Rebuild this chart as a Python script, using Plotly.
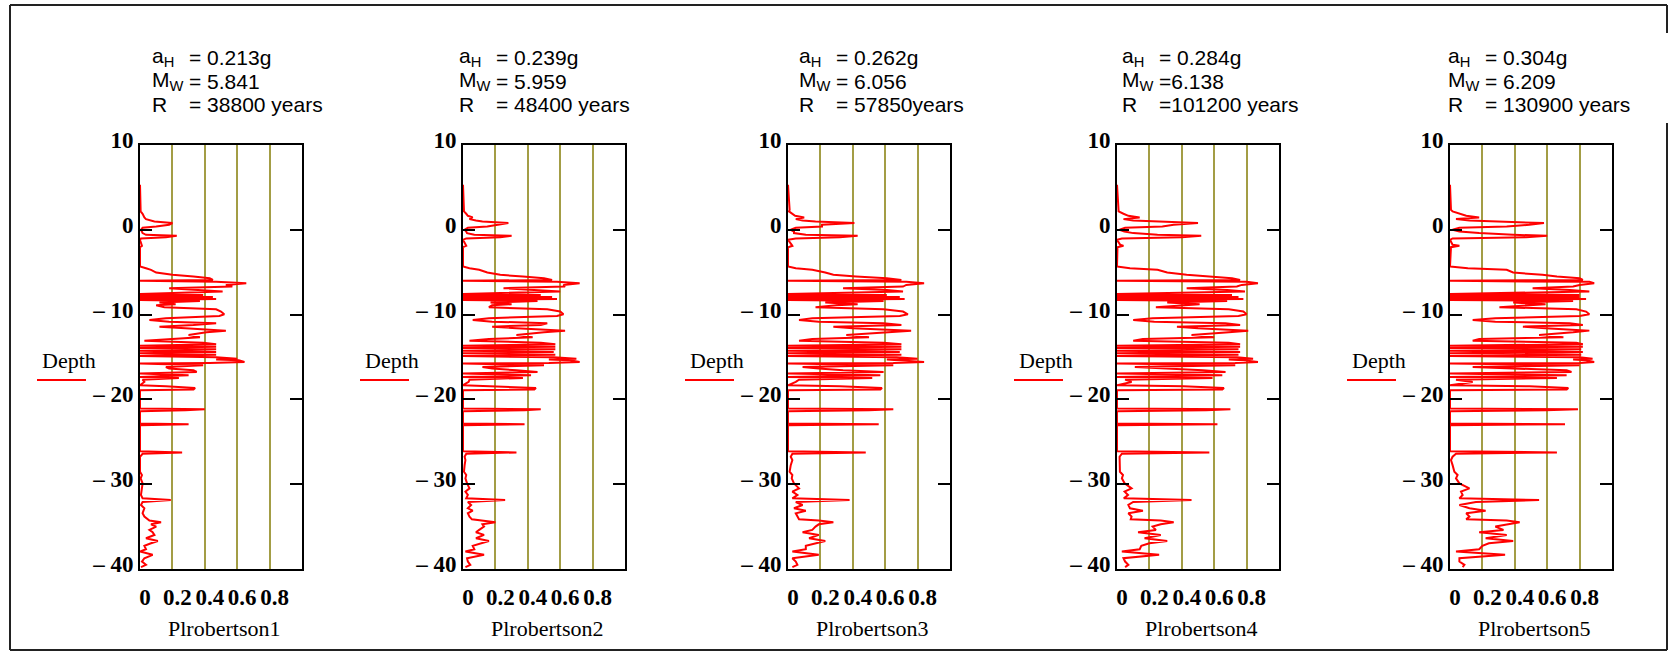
import plotly.graph_objects as go

# ---- data -------------------------------------------------------------
DEPTH = [
    5.32, 2.36, 2.17, 1.89, 1.65, 1.46, 1.26, 1.10, 0.98, 0.79,
    0.59, 0.39, 0.24, 0.00, -0.20, -0.39, -0.59, -0.71, -0.87, -1.02,
    -1.18, -1.77, -1.89, -2.05, -4.33, -4.53, -4.72, -5.04, -5.31, -5.51,
    -5.71, -5.91, -6.02, -6.14, -6.30, -6.50, -6.69, -6.89, -7.09, -7.28,
    -7.56, -7.68, -7.80, -7.91, -8.03, -8.15, -8.27, -8.39, -8.58, -8.78,
    -8.90, -9.13, -9.37, -9.64, -9.96, -10.16, -10.43, -10.63, -10.83, -11.02,
    -11.22, -11.42, -11.61, -11.89, -12.09, -12.40, -12.68, -12.87, -13.07, -13.31,
    -13.50, -13.66, -13.78, -13.94, -14.10, -14.25, -14.41, -14.57, -14.72, -14.88,
    -15.04, -15.20, -15.30, -15.39, -15.59, -15.70, -15.78, -15.98, -16.18, -16.37,
    -16.57, -16.76, -16.96, -17.16, -17.35, -17.47, -17.67, -17.94, -18.33, -18.45,
    -18.65, -18.84, -18.92, -21.08, -21.16, -21.27, -21.39, -22.84, -22.92, -23.04,
    -26.10, -26.25, -26.41, -26.76, -27.16, -27.75, -28.53, -28.92, -29.31, -29.90,
    -30.49, -30.88, -31.27, -31.67, -31.86, -32.10, -32.45, -32.84, -33.12, -33.43,
    -33.82, -34.14, -34.29, -34.49, -34.73, -35.00, -35.39, -35.67, -35.98, -36.37,
    -36.69, -36.96, -37.27, -37.67, -37.94, -38.33, -38.73, -39.12, -39.51, -39.78,
]

PL1 = [
    0, 0, 0.004, 0.016, 0.02, 0.027, 0.037, 0.068, 0.089, 0.2,
    0.18, 0.1, 0.016, 0.006, 0.012, 0.016, 0.037, 0.227, 0.16, 0.006,
    0, 0.012, 0.012, 0, 0, 0.037, 0.068, 0.1, 0.2, 0.33,
    0.43, 0.45, 0, 0.47, 0.656, 0.53, 0.57, 0.18, 0.35, 0.51,
    0, 0.39, 0, 0.45, 0, 0.47, 0, 0.37, 0.12, 0.22,
    0.1, 0.15, 0.47, 0.5, 0.52, 0.49, 0.16, 0.058, 0.18, 0.47,
    0.33, 0.12, 0.28, 0.53, 0.41, 0.3, 0.37, 0.18, 0.027, 0.39,
    0.47, 0, 0.47, 0, 0.47, 0, 0.47, 0, 0.47, 0,
    0.47, 0.6, 0.47, 0.61, 0.645, 0.43, 0, 0.39, 0.16, 0.18,
    0.33, 0.35, 0, 0.3, 0, 0.24, 0.016, 0.027, 0, 0.16,
    0.34, 0.33, 0, 0, 0.4, 0.28, 0, 0, 0.3, 0,
    0, 0.26, 0.016, 0, 0, 0, 0, 0.012, 0.004, 0.016,
    0.012, 0.006, 0.006, 0.016, 0.19, 0.016, 0.006, 0.027, 0.02, 0.016,
    0.027, 0.047, 0.058, 0.13, 0.068, 0.1, 0.058, 0.078, 0.089, 0.037,
    0.11, 0.068, 0.027, 0.037, 0, 0.078, 0.027, 0.012, 0.037, 0.006,
]

PL2 = [
    0, 0.006, 0.006, 0.02, 0.03, 0.06, 0.04, 0.08, 0.12, 0.28,
    0.2, 0.15, 0.03, 0.01, 0.02, 0.025, 0.07, 0.3, 0.23, 0.02,
    0, 0.016, 0.02, 0, 0, 0.04, 0.1, 0.15, 0.23, 0.37,
    0.5, 0.55, 0, 0.58, 0.72, 0.62, 0.63, 0.25, 0.46, 0.6,
    0, 0.48, 0, 0.55, 0, 0.58, 0, 0.46, 0.17, 0.3,
    0.18, 0.16, 0.52, 0.6, 0.62, 0.58, 0.16, 0.06, 0.18, 0.52,
    0.48, 0.18, 0.33, 0.63, 0.5, 0.33, 0.43, 0.16, 0.04, 0.48,
    0.57, 0, 0.57, 0, 0.57, 0, 0.56, 0, 0.57, 0,
    0.56, 0.7, 0.53, 0.66, 0.72, 0.53, 0, 0.5, 0.12, 0.18,
    0.33, 0.46, 0, 0.42, 0, 0.37, 0.04, 0.035, 0, 0.23,
    0.45, 0.44, 0, 0, 0.48, 0.38, 0, 0, 0.38, 0,
    0, 0.33, 0.02, 0.01, 0.015, 0.01, 0.006, 0.02, 0.015, 0.025,
    0.04, 0.015, 0.03, 0.02, 0.26, 0.03, 0.05, 0.03, 0.06, 0.03,
    0.04, 0.055, 0.12, 0.2, 0.12, 0.13, 0.1, 0.08, 0.13, 0.08,
    0.16, 0.11, 0.06, 0.07, 0.015, 0.13, 0.025, 0.03, 0.045, 0.015,
]

PL3 = [
    0, 0.01, 0.006, 0.027, 0.044, 0.1, 0.048, 0.09, 0.17, 0.41,
    0.21, 0.21, 0.048, 0.017, 0.037, 0.037, 0.11, 0.43, 0.32, 0.048,
    0, 0.023, 0.027, 0, 0, 0.048, 0.15, 0.23, 0.28, 0.42,
    0.61, 0.7, 0, 0.73, 0.84, 0.73, 0.71, 0.34, 0.61, 0.71,
    0, 0.61, 0, 0.69, 0, 0.72, 0, 0.59, 0.23, 0.43,
    0.3, 0.17, 0.59, 0.71, 0.74, 0.69, 0.15, 0.068, 0.19, 0.59,
    0.7, 0.28, 0.4, 0.76, 0.61, 0.36, 0.5, 0.15, 0.068, 0.59,
    0.7, 0, 0.7, 0, 0.7, 0, 0.69, 0, 0.7, 0,
    0.67, 0.8, 0.61, 0.71, 0.84, 0.65, 0, 0.65, 0.09, 0.19,
    0.34, 0.59, 0, 0.57, 0, 0.52, 0.068, 0.048, 0, 0.32,
    0.58, 0.57, 0, 0, 0.65, 0.5, 0, 0, 0.56, 0,
    0, 0.48, 0.027, 0.017, 0.027, 0.017, 0.01, 0.027, 0.023, 0.037,
    0.068, 0.027, 0.058, 0.027, 0.38, 0.048, 0.09, 0.037, 0.11, 0.048,
    0.058, 0.068, 0.19, 0.28, 0.19, 0.17, 0.15, 0.09, 0.19, 0.13,
    0.23, 0.17, 0.11, 0.11, 0.027, 0.19, 0.027, 0.048, 0.058, 0.027,
]

PL4 = [
    0, 0.008, 0.01, 0.04, 0.07, 0.14, 0.04, 0.1, 0.24, 0.5,
    0.35, 0.28, 0.05, 0.016, 0.045, 0.1, 0.25, 0.52, 0.4, 0.03,
    0, 0.02, 0.04, 0.003, 0, 0.08, 0.25, 0.31, 0.43, 0.55,
    0.71, 0.76, 0, 0.8, 0.87, 0.77, 0.74, 0.43, 0.68, 0.79,
    0, 0.71, 0, 0.75, 0, 0.78, 0, 0.68, 0.31, 0.51,
    0.4, 0.24, 0.69, 0.78, 0.8, 0.75, 0.22, 0.1, 0.23, 0.67,
    0.76, 0.37, 0.5, 0.81, 0.69, 0.46, 0.6, 0.16, 0.1, 0.69,
    0.76, 0, 0.76, 0, 0.75, 0, 0.76, 0, 0.75, 0,
    0.74, 0.84, 0.69, 0.78, 0.87, 0.73, 0, 0.73, 0.11, 0.34,
    0.53, 0.67, 0, 0.65, 0, 0.59, 0.05, 0.09, 0, 0.41,
    0.66, 0.65, 0, 0, 0.7, 0.55, 0, 0, 0.62, 0,
    0, 0.57, 0.03, 0.016, 0.016, 0.016, 0.018, 0.037, 0.03, 0.047,
    0.09, 0.047, 0.068, 0.042, 0.46, 0.1, 0.07, 0.08, 0.16, 0.07,
    0.09, 0.085, 0.27, 0.35, 0.27, 0.22, 0.24, 0.13, 0.27, 0.17,
    0.31, 0.2, 0.15, 0.14, 0.03, 0.26, 0.04, 0.05, 0.07, 0.05,
]

PL5 = [
    0, 0.006, 0.016, 0.058, 0.1, 0.18, 0.037, 0.12, 0.305, 0.58,
    0.49, 0.35, 0.058, 0.016, 0.058, 0.18, 0.39, 0.6, 0.47, 0.016,
    0, 0.016, 0.058, 0.006, 0, 0.11, 0.35, 0.39, 0.57, 0.66,
    0.8, 0.82, 0, 0.86, 0.89, 0.8, 0.76, 0.51, 0.74, 0.86,
    0, 0.8, 0, 0.8, 0, 0.84, 0, 0.76, 0.39, 0.59,
    0.49, 0.305, 0.78, 0.84, 0.86, 0.8, 0.28, 0.14, 0.28, 0.74,
    0.82, 0.45, 0.59, 0.86, 0.76, 0.55, 0.7, 0.18, 0.14, 0.78,
    0.82, 0, 0.82, 0, 0.81, 0, 0.82, 0, 0.81, 0,
    0.8, 0.88, 0.76, 0.84, 0.89, 0.8, 0, 0.8, 0.14, 0.49,
    0.72, 0.75, 0, 0.72, 0, 0.66, 0.037, 0.14, 0, 0.49,
    0.73, 0.72, 0, 0, 0.79, 0.59, 0, 0, 0.71, 0,
    0, 0.66, 0.037, 0.016, 0.006, 0.016, 0.027, 0.047, 0.037, 0.058,
    0.12, 0.068, 0.078, 0.058, 0.55, 0.16, 0.058, 0.12, 0.22, 0.1,
    0.12, 0.1, 0.35, 0.43, 0.35, 0.28, 0.33, 0.18, 0.35, 0.22,
    0.39, 0.24, 0.2, 0.18, 0.037, 0.34, 0.058, 0.058, 0.089, 0.078,
]

SERIES = [PL1, PL2, PL3, PL4, PL5]
SERIES_NAMES = ["Plrobertson1", "Plrobertson2", "Plrobertson3", "Plrobertson4", "Plrobertson5"]
A_H = ["= 0.213g", "= 0.239g", "= 0.262g", "= 0.284g", "= 0.304g"]
M_W = ["= 5.841", "= 5.959", "= 6.056", "=6.138", "= 6.209"]
R_YEARS = ["= 38800 years", "= 48400 years", "= 57850years", "=101200 years", "= 130900 years"]

Y_TICKS = [10, 0, -10, -20, -30, -40]
Y_TICKTEXT = ["10", "0", "\u2013 10", "\u2013 20", "\u2013 30", "\u2013 40"]
X_TICKS = [0, 0.2, 0.4, 0.6, 0.8]
X_TICKTEXT = ["0", "0.2", "0.4", "0.6", "0.8"]

# ---- layout geometry (pixels) ----------------------------------------
W, H = 1676, 652
PANEL_LEFT = [140, 463, 788, 1117, 1450]
PANEL_W = 162
PLOT_TOP, PLOT_BOTTOM = 145, 569
TEXT_LEFT = [150, 457, 797, 1120, 1446]
TEXT_ROWS = [57, 81, 105]

SERIF = "Liberation Serif"
SANS = "Liberation Sans"
GRID = "#a39d45"
FRAME = "#222222"


def px(x):
    return x / W


def py(y):
    return 1 - y / H


fig = go.Figure()
annotations = []
shapes = []

for i, vals in enumerate(SERIES):
    n = i + 1
    xa = "x" if n == 1 else f"x{n}"
    ya = "y" if n == 1 else f"y{n}"
    fig.add_trace(go.Scatter(
        x=vals, y=DEPTH, xaxis=xa, yaxis=ya, mode="lines",
        line=dict(color="#ff0000", width=2), showlegend=False,
        hoverinfo="skip",
    ))

    left = PANEL_LEFT[i]
    right = left + PANEL_W
    xkey = "xaxis" if n == 1 else f"xaxis{n}"
    ykey = "yaxis" if n == 1 else f"yaxis{n}"
    fig.layout[xkey] = dict(
        domain=[px(left), px(right)], anchor=ya, range=[0, 1],
        tickvals=X_TICKS, ticktext=X_TICKTEXT, ticks="",
        showgrid=True, gridcolor=GRID, gridwidth=1.5, zeroline=False,
        showline=True, linecolor="black", linewidth=2, mirror=True,
        tickfont=dict(family=SERIF, size=23, color="black", weight="bold"),
        ticklabelshift=5, ticklabelstandoff=6, fixedrange=True,
        automargin=False,
    )
    fig.layout[ykey] = dict(
        domain=[py(PLOT_BOTTOM), py(PLOT_TOP)], anchor=xa, range=[-40, 10],
        tickvals=Y_TICKS, ticktext=Y_TICKTEXT, ticks="inside", ticklen=12,
        tickwidth=2, tickcolor="black", showgrid=False, zeroline=False,
        showline=True, linecolor="black", linewidth=2, mirror="ticks",
        tickfont=dict(family=SERIF, size=23, color="black", weight="bold"),
        ticklabelshift=-5, ticklabelstandoff=0, fixedrange=True,
        automargin=False,
    )

    # series name under the panel
    annotations.append(dict(
        text=SERIES_NAMES[i], x=px((left + right) / 2 + 3), y=py(628),
        xref="paper", yref="paper", xanchor="center", yanchor="middle",
        showarrow=False, font=dict(family=SERIF, size=22, color="black"),
    ))
    # "Depth" key with its red line sample
    annotations.append(dict(
        text="Depth", x=px(left - 71), y=py(360),
        xref="paper", yref="paper", xanchor="center", yanchor="middle",
        showarrow=False, font=dict(family=SERIF, size=22, color="black"),
    ))
    shapes.append(dict(
        type="line", xref="paper", yref="paper",
        x0=px(left - 103), x1=px(left - 54), y0=py(380), y1=py(380),
        line=dict(color="#ff0000", width=2),
    ))

    # parameter block above the panel
    tl = TEXT_LEFT[i]
    rows = [("a<sub>H</sub>", A_H[i]), ("M<sub>W</sub>", M_W[i]), ("R", R_YEARS[i])]
    for (name, value), ty in zip(rows, TEXT_ROWS):
        annotations.append(dict(
            text=name, x=px(tl), y=py(ty), xref="paper", yref="paper",
            xanchor="left", yanchor="middle", showarrow=False,
            font=dict(family=SANS, size=21, color="black"),
        ))
        annotations.append(dict(
            text=value, x=px(tl + 37), y=py(ty), xref="paper", yref="paper",
            xanchor="left", yanchor="middle", showarrow=False,
            font=dict(family=SANS, size=21, color="black"),
        ))

# outer frame (the right edge is interrupted beside the top text block)
for x0, y0, x1, y1 in [
    (10, 5, 1667, 5),
    (10, 650, 1667, 650),
    (10, 5, 10, 650),
    (1667, 5, 1667, 33),
    (1667, 123, 1667, 650),
]:
    shapes.append(dict(
        type="line", xref="paper", yref="paper",
        x0=px(x0), x1=px(x1), y0=py(y0), y1=py(y1),
        line=dict(color=FRAME, width=2),
    ))

fig.update_layout(
    width=W, height=H,
    margin=dict(l=0, r=0, t=0, b=0, pad=0, autoexpand=False),
    paper_bgcolor="white", plot_bgcolor="white",
    annotations=annotations, shapes=shapes, showlegend=False,
)

fig.write_html("out.html", config={"displayModeBar": False})
